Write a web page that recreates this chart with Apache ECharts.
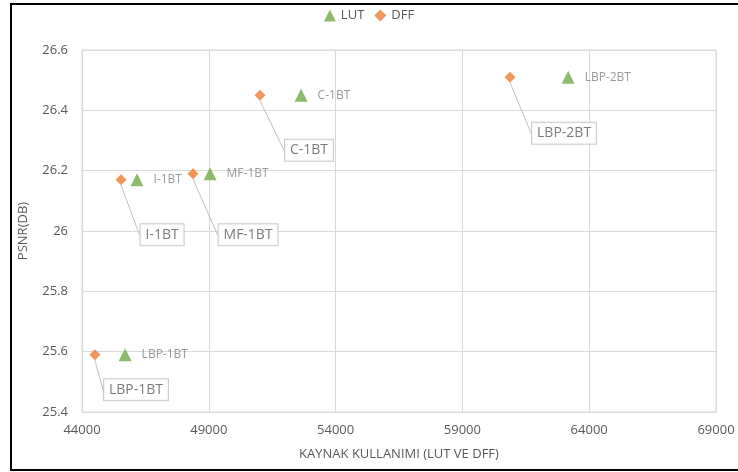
<!DOCTYPE html>
<html>
<head>
<meta charset="utf-8">
<script src="https://cdn.jsdelivr.net/npm/echarts@6/dist/echarts.min.js"></script>
<style>
  html, body { margin: 0; padding: 0; background: #fff; }
  #chart { width: 738px; height: 472px; }
</style>
</head>
<body>
<div id="chart"></div>
<script>
// Design names shared by both series
const designs = ['LBP-1BT', 'I-1BT', 'MF-1BT', 'C-1BT', 'LBP-2BT'];

// Resource usage (x) and PSNR in dB (y) per design
const lutUsage = [45700, 46170, 49050, 52640, 63170];
const lutPsnr  = [25.59, 26.17, 26.19, 26.45, 26.51];
const dffUsage = [44510, 45540, 48380, 51020, 60880];
const dffPsnr  = [25.59, 26.17, 26.19, 26.45, 26.51];

// Axis tick settings
const xTicks = { min: 44000, max: 69000, step: 5000 };
const yTicks = { min: 25.4, max: 26.6, step: 0.2 };

// Callout offsets (pixels) for the boxed DFF labels
const dffCallout = [[41, 35], [41, 55], [55, 61], [49, 55], [54, 56]];

const FONT = '"Open Sans", "Noto Sans", sans-serif';
const TEXT = '#595959';
const GRID = '#d9d9d9';

function pairs(xs, ys) {
  return xs.map((x, i) => ({ value: [x, ys[i]], name: designs[i] }));
}

const chart = echarts.init(document.getElementById('chart'), null, { renderer: 'canvas' });

chart.setOption({
  animation: false,
  backgroundColor: '#fff',
  textStyle: { fontFamily: FONT },
  graphic: [{
    type: 'rect',
    shape: { x: 11, y: 4, width: 740, height: 466 },
    style: { fill: 'none', stroke: '#000', lineWidth: 2 },
    silent: true,
    z: 100
  }],
  legend: {
    top: 4,
    left: 'center',
    itemWidth: 12,
    itemHeight: 12,
    itemGap: 10,
    textStyle: { color: TEXT, fontSize: 13, fontFamily: FONT },
    data: [
      { name: 'LUT', icon: 'triangle' },
      { name: 'DFF', icon: 'diamond' }
    ]
  },
  grid: {
    left: 82, right: 22, top: 50, bottom: 60,
    show: true, borderColor: GRID, borderWidth: 1
  },
  xAxis: {
    type: 'value',
    min: xTicks.min, max: xTicks.max, interval: xTicks.step,
    name: 'KAYNAK KULLANIMI (LUT VE DFF)',
    nameLocation: 'middle',
    nameGap: 36,
    nameTextStyle: { color: TEXT, fontSize: 13, fontFamily: FONT },
    axisLine: { show: true, lineStyle: { color: GRID } },
    axisTick: { show: false },
    axisLabel: {
      color: TEXT, fontSize: 13, margin: 12, fontFamily: FONT,
      formatter: v => String(Math.round(v))
    },
    splitLine: { show: true, lineStyle: { color: GRID } }
  },
  yAxis: {
    type: 'value',
    min: yTicks.min, max: yTicks.max, interval: yTicks.step,
    name: 'PSNR(DB)',
    nameLocation: 'middle',
    nameGap: 52,
    nameTextStyle: { color: TEXT, fontSize: 13, fontFamily: FONT },
    axisLine: { show: true, lineStyle: { color: GRID } },
    axisTick: { show: false },
    axisLabel: {
      color: TEXT, fontSize: 13, margin: 14, fontFamily: FONT,
      formatter: v => String(+v.toFixed(1))
    },
    splitLine: { show: true, lineStyle: { color: GRID } }
  },
  series: [
    {
      name: 'LUT',
      type: 'scatter',
      symbol: 'triangle',
      symbolSize: 13,
      itemStyle: { color: '#70AD47' },
      data: pairs(lutUsage, lutPsnr),
      label: {
        show: true,
        position: 'right',
        distance: 10,
        formatter: p => p.name,
        color: '#7f7f7f',
        fontSize: 12,
        fontFamily: FONT
      },
      z: 3
    },
    {
      name: 'DFF',
      type: 'scatter',
      symbol: 'diamond',
      symbolSize: 11,
      itemStyle: { color: '#ED7D31' },
      data: pairs(dffUsage, dffPsnr),
      label: {
        show: true,
        position: 'inside',
        formatter: p => p.name,
        color: TEXT,
        fontSize: 14,
        fontFamily: FONT,
        backgroundColor: '#fff',
        borderColor: '#bfbfbf',
        borderWidth: 1,
        padding: [4, 5, 3, 5]
      },
      labelLine: {
        show: true,
        lineStyle: { color: '#bfbfbf', width: 1 }
      },
      labelLayout: function (params) {
        const off = dffCallout[params.dataIndex];
        return { dx: off[0], dy: off[1] };
      },
      z: 4
    }
  ]
});
</script>
</body>
</html>
